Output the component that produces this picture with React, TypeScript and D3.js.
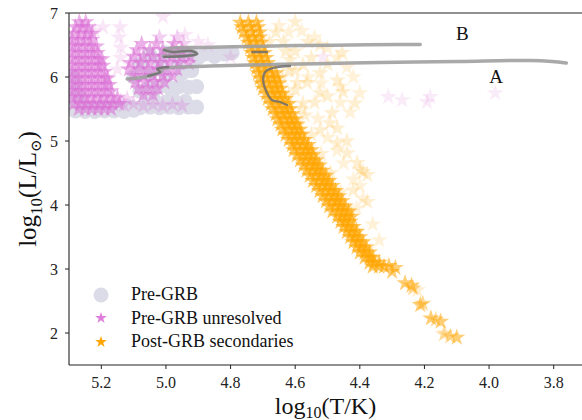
import React from "react";
import * as d3 from "d3";

// ---------- DATA (log10 T, log10 L, weight) ----------
const xTicks = [5.2, 5.0, 4.8, 4.6, 4.4, 4.2, 4.0, 3.8];
const yTicks = [2, 3, 4, 5, 6, 7];

const preGRB: [number, number][] = [
  [5.28, 5.47], [5.25, 5.46], [5.22, 5.46], [5.19, 5.47], [5.16, 5.47], [5.13, 5.46], [5.10, 5.48],
  [5.29, 5.53], [5.26, 5.53], [5.23, 5.52], [5.20, 5.53], [5.17, 5.52], [5.14, 5.52], [5.11, 5.53],
  [5.08, 5.52], [5.05, 5.53], [5.02, 5.52], [4.99, 5.53], [4.96, 5.52], [4.93, 5.53], [4.905, 5.53],
  [5.29, 5.62], [5.27, 5.70], [5.29, 5.80], [5.28, 5.90], [5.29, 6.0],
  [5.06, 5.62], [5.03, 5.60], [5.00, 5.61], [4.97, 5.60], [4.94, 5.62],
  [5.08, 5.78], [5.05, 5.84], [5.02, 5.85], [4.99, 5.84], [4.96, 5.85], [4.93, 5.84], [4.905, 5.85],
  [5.04, 5.76], [4.98, 5.76],
  [5.10, 6.0], [5.05, 6.05], [5.0, 6.0], [4.95, 6.05], [4.92, 6.1], [5.08, 6.2], [5.02, 6.25], [4.96, 6.25],
  [5.05, 6.35], [5.0, 6.38], [4.96, 6.36], [4.92, 6.37], [4.88, 6.36], [4.85, 6.37], [4.82, 6.36],
  [4.795, 6.38], [4.90, 6.30], [4.85, 6.32],
];

const preGRBUnresolved: [number, number, number][] = [
  // left cluster
  [5.268, 6.86, 1], [5.248, 6.86, 1],
  [5.28, 6.78, 1], [5.26, 6.78, 1], [5.24, 6.78, 1],
  [5.285, 6.68, 1], [5.265, 6.68, 1], [5.245, 6.68, 1], [5.228, 6.68, 1],
  [5.29, 6.58, 1], [5.27, 6.58, 1], [5.25, 6.58, 1], [5.23, 6.58, 1],
  [5.29, 6.48, 1], [5.272, 6.48, 1], [5.252, 6.48, 1], [5.232, 6.48, 1], [5.215, 6.48, 1],
  [5.29, 6.38, 1], [5.27, 6.38, 1], [5.25, 6.38, 1], [5.23, 6.38, 1], [5.212, 6.38, 1],
  [5.29, 6.28, 1], [5.27, 6.28, 1], [5.25, 6.28, 1], [5.23, 6.28, 1], [5.21, 6.28, 1], [5.198, 6.28, 1],
  [5.29, 6.18, 1], [5.27, 6.18, 1], [5.25, 6.18, 1], [5.23, 6.18, 1], [5.21, 6.18, 1], [5.195, 6.18, 1],
  [5.29, 6.08, 1], [5.27, 6.08, 1], [5.25, 6.08, 1], [5.23, 6.08, 1], [5.21, 6.08, 1], [5.19, 6.08, 1],
  [5.29, 5.98, 1], [5.27, 5.98, 1], [5.25, 5.98, 1], [5.23, 5.98, 1], [5.21, 5.98, 1], [5.19, 5.98, 1], [5.18, 5.98, 1],
  [5.29, 5.88, 1], [5.27, 5.88, 1], [5.25, 5.88, 1], [5.23, 5.88, 1], [5.21, 5.88, 1], [5.19, 5.88, 1], [5.175, 5.88, 1],
  [5.29, 5.78, 1], [5.27, 5.78, 1], [5.25, 5.78, 1], [5.23, 5.78, 1], [5.21, 5.78, 1], [5.19, 5.78, 1], [5.17, 5.78, 1],
  [5.29, 5.68, 1], [5.27, 5.68, 1], [5.25, 5.68, 1], [5.23, 5.68, 1], [5.21, 5.68, 1], [5.19, 5.68, 1], [5.17, 5.68, 1], [5.15, 5.68, 1],
  [5.285, 5.58, 1], [5.265, 5.58, 1], [5.245, 5.58, 1], [5.225, 5.58, 1], [5.205, 5.58, 1], [5.185, 5.58, 1], [5.165, 5.58, 1], [5.145, 5.58, 1],
  [5.27, 5.50, 1], [5.25, 5.50, 1], [5.23, 5.50, 1], [5.21, 5.50, 1], [5.19, 5.50, 1], [5.17, 5.50, 1],
  // middle cluster
  [5.02, 6.62, 0.6], [4.965, 6.62, 0.6],
  [5.075, 6.52, 1], [5.03, 6.52, 1], [4.975, 6.52, 1], [4.945, 6.52, 0.6],
  [5.09, 6.42, 1], [5.05, 6.42, 1], [5.01, 6.42, 1], [4.98, 6.42, 1], [4.95, 6.42, 1],
  [5.10, 6.32, 1], [5.07, 6.32, 1], [5.04, 6.32, 1], [5.01, 6.32, 1], [4.98, 6.32, 1], [4.95, 6.32, 1], [4.925, 6.32, 1],
  [5.11, 6.22, 1], [5.08, 6.22, 1], [5.05, 6.22, 1], [5.02, 6.22, 1], [4.99, 6.22, 1], [4.96, 6.22, 1], [4.93, 6.22, 1],
  [5.115, 6.12, 1], [5.085, 6.12, 1], [5.055, 6.12, 1], [5.025, 6.12, 1], [4.995, 6.12, 1], [4.965, 6.12, 1],
  [5.10, 6.02, 1], [5.07, 6.02, 1], [5.04, 6.02, 1], [5.01, 6.02, 1], [4.98, 6.02, 1],
  [5.095, 5.92, 1], [5.065, 5.92, 1], [5.035, 5.92, 1], [5.005, 5.92, 1],
  [5.085, 5.82, 1], [5.055, 5.82, 1], [5.025, 5.82, 1],
  [5.07, 5.72, 1], [5.04, 5.72, 1],
  // bottom strip
  [5.13, 5.56, 0.5], [5.10, 5.58, 0.5], [5.07, 5.55, 0.5], [5.04, 5.57, 0.5], [5.01, 5.55, 0.5],
  [4.98, 5.57, 0.5], [4.95, 5.55, 0.5], [5.12, 5.66, 0.5], [5.14, 5.62, 0.5],
  // faint scattered
  [5.195, 6.78, 0.3], [5.142, 6.78, 0.3], [5.145, 6.62, 0.3], [5.14, 6.46, 0.3], [5.14, 6.30, 0.3],
  [5.15, 6.12, 0.3], [5.009, 6.94, 0.3], [4.941, 6.66, 0.3], [4.87, 6.50, 0.3], [4.80, 6.31, 0.3],
  [5.22, 6.72, 0.3], [4.9, 6.55, 0.3],
  [4.514, 6.31, 0.25], [4.312, 5.69, 0.25], [4.269, 5.64, 0.25], [4.192, 5.61, 0.25],
  [4.182, 5.69, 0.25], [3.981, 5.75, 0.25],
];

const postGRB: [number, number, number][] = [
  [4.77, 6.85, 1], [4.745, 6.85, 1], [4.72, 6.85, 1],
  [4.765, 6.78, 1], [4.74, 6.78, 1], [4.715, 6.78, 1],
  [4.76, 6.70, 1], [4.735, 6.70, 1], [4.71, 6.70, 1],
  [4.75, 6.62, 1], [4.73, 6.62, 1], [4.71, 6.62, 1],
  [4.745, 6.54, 1], [4.725, 6.54, 1], [4.705, 6.54, 1],
  [4.74, 6.46, 1], [4.72, 6.46, 1], [4.70, 6.46, 1],
  [4.735, 6.38, 1], [4.715, 6.38, 1], [4.695, 6.38, 1],
  [4.73, 6.30, 1], [4.71, 6.30, 1], [4.69, 6.30, 1],
  [4.725, 6.22, 1], [4.705, 6.22, 1], [4.685, 6.22, 1],
  [4.72, 6.14, 1], [4.70, 6.14, 1], [4.68, 6.14, 1],
  [4.715, 6.06, 1], [4.695, 6.06, 1], [4.675, 6.06, 1], [4.66, 6.06, 1],
  [4.71, 5.98, 1], [4.69, 5.98, 1], [4.67, 5.98, 1], [4.655, 5.98, 1],
  [4.705, 5.90, 1], [4.685, 5.90, 1], [4.665, 5.90, 1], [4.65, 5.90, 1],
  [4.70, 5.82, 1], [4.68, 5.82, 1], [4.66, 5.82, 1], [4.645, 5.82, 1],
  [4.69, 5.74, 1], [4.67, 5.74, 1], [4.655, 5.74, 1], [4.64, 5.74, 1],
  [4.685, 5.66, 1], [4.665, 5.66, 1], [4.645, 5.66, 1], [4.63, 5.66, 1],
  [4.675, 5.58, 1], [4.655, 5.58, 1], [4.64, 5.58, 1], [4.62, 5.58, 1],
  [4.67, 5.50, 1], [4.65, 5.50, 1], [4.63, 5.50, 1], [4.615, 5.50, 1],
  [4.66, 5.42, 1], [4.64, 5.42, 1], [4.625, 5.42, 1], [4.61, 5.42, 1],
  [4.655, 5.34, 1], [4.635, 5.34, 1], [4.615, 5.34, 1], [4.60, 5.34, 1],
  [4.645, 5.26, 1], [4.625, 5.26, 1], [4.61, 5.26, 1], [4.595, 5.26, 1],
  [4.64, 5.18, 1], [4.62, 5.18, 1], [4.60, 5.18, 1], [4.585, 5.18, 1],
  [4.63, 5.10, 1], [4.61, 5.10, 1], [4.595, 5.10, 1], [4.58, 5.10, 1],
  [4.62, 5.02, 1], [4.60, 5.02, 1], [4.585, 5.02, 1], [4.57, 5.02, 1],
  [4.61, 4.94, 1], [4.595, 4.94, 1], [4.575, 4.94, 1], [4.56, 4.94, 1],
  [4.605, 4.86, 1], [4.585, 4.86, 1], [4.565, 4.86, 1], [4.55, 4.86, 1],
  [4.595, 4.78, 1], [4.575, 4.78, 1], [4.56, 4.78, 1], [4.545, 4.78, 1],
  [4.585, 4.70, 1], [4.565, 4.70, 1], [4.55, 4.70, 1], [4.535, 4.70, 1],
  [4.575, 4.62, 1], [4.555, 4.62, 1], [4.54, 4.62, 1], [4.525, 4.62, 1],
  [4.565, 4.54, 1], [4.545, 4.54, 1], [4.53, 4.54, 1], [4.515, 4.54, 1],
  [4.555, 4.46, 1], [4.535, 4.46, 1], [4.52, 4.46, 1], [4.505, 4.46, 1],
  [4.545, 4.38, 1], [4.525, 4.38, 1], [4.51, 4.38, 1], [4.495, 4.38, 1],
  [4.535, 4.30, 1], [4.515, 4.30, 1], [4.50, 4.30, 1], [4.485, 4.30, 1],
  [4.525, 4.22, 1], [4.505, 4.22, 1], [4.49, 4.22, 1], [4.475, 4.22, 1],
  [4.515, 4.14, 1], [4.495, 4.14, 1], [4.48, 4.14, 1], [4.465, 4.14, 1],
  [4.505, 4.06, 1], [4.485, 4.06, 1], [4.47, 4.06, 1], [4.455, 4.06, 1],
  [4.495, 3.98, 1], [4.475, 3.98, 1], [4.46, 3.98, 1], [4.445, 3.98, 1],
  [4.485, 3.90, 1], [4.465, 3.90, 1], [4.45, 3.90, 1], [4.435, 3.90, 1],
  [4.47, 3.82, 1], [4.455, 3.82, 1], [4.44, 3.82, 1], [4.425, 3.82, 1],
  [4.46, 3.74, 1], [4.445, 3.74, 1], [4.43, 3.74, 1],
  [4.45, 3.66, 1], [4.435, 3.66, 1], [4.42, 3.66, 1],
  [4.44, 3.58, 1], [4.425, 3.58, 1], [4.41, 3.58, 1],
  [4.43, 3.50, 1], [4.415, 3.50, 1], [4.40, 3.50, 1],
  [4.42, 3.42, 1], [4.405, 3.42, 1], [4.39, 3.42, 1],
  [4.41, 3.34, 1], [4.395, 3.34, 1], [4.38, 3.34, 1],
  [4.40, 3.26, 1], [4.385, 3.26, 1], [4.37, 3.26, 1],
  [4.385, 3.18, 1], [4.37, 3.18, 1], [4.36, 3.18, 1],
  [4.37, 3.10, 1], [4.355, 3.10, 1], [4.34, 3.10, 1],
  [4.36, 3.04, 1], [4.34, 3.04, 1], [4.325, 3.04, 1],
  // tail
  [4.31, 3.05, 0.9], [4.29, 3.02, 0.9], [4.30, 2.96, 0.9],
  [4.26, 2.78, 0.9], [4.24, 2.74, 0.9], [4.235, 2.70, 0.7],
  [4.213, 2.44, 0.9], [4.205, 2.46, 0.7],
  [4.18, 2.23, 0.9], [4.15, 2.18, 0.9], [4.165, 2.21, 0.6],
  [4.14, 1.98, 0.5], [4.12, 1.95, 0.7], [4.10, 1.93, 0.9],
  // faint spread
  [4.600, 6.86, 0.3], [4.637, 6.55, 0.3], [4.560, 6.55, 0.3], [4.523, 6.50, 0.3], [4.455, 6.38, 0.3],
  [4.616, 6.27, 0.3], [4.576, 6.19, 0.3], [4.523, 6.06, 0.3], [4.470, 5.95, 0.3], [4.594, 5.91, 0.3],
  [4.563, 5.91, 0.3], [4.523, 5.75, 0.3], [4.452, 5.77, 0.3], [4.415, 5.59, 0.3], [4.486, 5.44, 0.3],
  [4.576, 5.59, 0.3], [4.399, 4.55, 0.3], [4.377, 4.47, 0.3], [4.390, 4.52, 0.3], [4.408, 4.66, 0.3],
  [4.439, 4.81, 0.3], [4.470, 4.97, 0.3], [4.523, 5.17, 0.3], [4.492, 5.28, 0.3], [4.377, 4.05, 0.3],
  [4.421, 4.23, 0.3], [4.222, 2.67, 0.3], [4.136, 2.00, 0.3],
  [4.60, 6.40, 0.3], [4.62, 6.10, 0.3], [4.60, 5.80, 0.3], [4.57, 5.40, 0.3], [4.55, 5.10, 0.3],
  [4.52, 4.80, 0.3], [4.49, 4.50, 0.3], [4.46, 4.20, 0.3], [4.43, 3.90, 0.3], [4.41, 3.60, 0.3],
  [4.38, 3.30, 0.3], [4.55, 6.30, 0.3], [4.50, 6.20, 0.3], [4.66, 6.70, 0.3], [4.68, 6.55, 0.3],
  [4.54, 5.60, 0.3], [4.50, 5.70, 0.3], [4.47, 5.20, 0.3], [4.44, 5.00, 0.3],
  [4.65, 6.80, 0.25], [4.62, 6.70, 0.25], [4.58, 6.72, 0.25], [4.54, 6.62, 0.25], [4.50, 6.45, 0.25],
  [4.47, 6.30, 0.25], [4.44, 6.15, 0.25], [4.42, 6.00, 0.25], [4.46, 5.85, 0.25], [4.40, 5.75, 0.25],
  [4.43, 5.45, 0.25], [4.46, 5.60, 0.25], [4.52, 5.90, 0.25], [4.56, 6.00, 0.25], [4.58, 5.50, 0.25],
  [4.53, 5.35, 0.25], [4.50, 5.05, 0.25], [4.47, 4.85, 0.25], [4.45, 4.65, 0.25], [4.42, 4.40, 0.25],
  [4.40, 4.30, 0.25], [4.39, 4.10, 0.25], [4.41, 3.95, 0.25], [4.36, 3.70, 0.25], [4.34, 3.45, 0.25],
  [4.63, 6.40, 0.3], [4.60, 6.10, 0.3], [4.64, 6.00, 0.3], [4.62, 5.70, 0.3], [4.59, 5.25, 0.3],
  [4.56, 4.90, 0.3], [4.53, 4.65, 0.3], [4.50, 4.35, 0.3], [4.47, 4.05, 0.3], [4.45, 3.75, 0.3],
];

const trackA: [number, number][] = [
  [5.120, 5.969], [5.065, 6.000], [5.034, 6.047], [5.012, 6.094], [5.024, 6.125], [5.000, 6.141],
  [4.956, 6.156], [4.863, 6.172], [4.740, 6.188], [4.585, 6.203], [4.430, 6.219], [4.229, 6.234],
  [4.090, 6.242], [3.873, 6.258], [3.805, 6.242], [3.761, 6.219],
];
const trackB: [number, number][] = [
  [5.009, 6.328], [4.941, 6.328], [4.904, 6.359], [4.919, 6.406], [4.981, 6.391], [5.006, 6.422],
  [4.981, 6.453], [4.894, 6.461], [4.740, 6.477], [4.585, 6.492], [4.430, 6.500], [4.275, 6.508],
  [4.213, 6.508],
];
const loopB: [number, number][] = [
  [5.006, 6.313], [4.941, 6.328], [4.904, 6.359], [4.919, 6.406], [4.981, 6.391], [5.006, 6.422],
];
const loopA: [number, number][] = [[5.055, 6.016], [5.018, 6.078], [5.028, 6.125], [4.993, 6.156]];
const loopB2: [number, number][] = [[4.733, 6.391], [4.687, 6.391]];
const loopA2: [number, number][] = [
  [4.616, 6.172], [4.668, 6.141], [4.693, 6.078], [4.699, 5.953], [4.687, 5.750],
  [4.672, 5.641], [4.647, 5.609], [4.625, 5.563],
];

const trackLabels: { name: string; t: number; l: number }[] = [
  { name: "B", t: 4.083, l: 6.58 },
  { name: "A", t: 3.978, l: 5.9 },
];

const legendItems = ["Pre-GRB", "Pre-GRB unresolved", "Post-GRB secondaries"];

// ---------- CHART ----------
const W = 582;
const H = 420;
const L = 69;
const R = 586;
const T = 13;
const B = 365;
const FONT = "'Liberation Serif', 'DejaVu Serif', serif";

export default function App() {
  const x = d3.scaleLinear().domain([5.3, 3.7]).range([L, R]);
  const y = d3.scaleLinear().domain([1.5, 7]).range([B, T]);
  const star = d3.symbol().type(d3.symbolStar).size(92)() as string;
  const starSmall = d3.symbol().type(d3.symbolStar).size(42)() as string;
  const pinkOp = d3.scaleLinear().domain([0, 1]).range([0, 0.55]);
  const orangeOp = d3.scaleLinear().domain([0, 1]).range([0, 0.6]);
  const line = d3
    .line<[number, number]>()
    .x((d) => x(d[0]))
    .y((d) => y(d[1]))
    .curve(d3.curveCatmullRom);

  const grey = "#dcdce8";
  const pink = "#da70d6";
  const orange = "#ffa500";

  return (
    <svg
      width={W}
      height={H}
      style={{ position: "absolute", left: 0, top: 0, background: "#fff" }}
      fontFamily={FONT}
    >
      <defs>
        <clipPath id="plot">
          <rect x={L} y={T} width={R - L} height={B - T} />
        </clipPath>
      </defs>
      <g clipPath="url(#plot)">
        {preGRB.map((d, i) => (
          <circle key={"g" + i} cx={x(d[0])} cy={y(d[1])} r={7.5} fill={grey} />
        ))}
        {preGRBUnresolved.map((d, i) => (
          <path
            key={"p" + i}
            d={star}
            transform={`translate(${x(d[0])},${y(d[1])})`}
            fill={pink}
            fillOpacity={pinkOp(d[2])}
          />
        ))}
        {postGRB.map((d, i) => (
          <path
            key={"o" + i}
            d={star}
            transform={`translate(${x(d[0])},${y(d[1])})`}
            fill={orange}
            fillOpacity={orangeOp(d[2])}
          />
        ))}
        <path d={line(trackA) as string} fill="none" stroke="#a0a0a0" strokeWidth={3.5} strokeOpacity={0.9} strokeLinecap="round" strokeLinejoin="round" />
        <path d={line(trackB) as string} fill="none" stroke="#a0a0a0" strokeWidth={3.5} strokeOpacity={0.9} strokeLinecap="round" strokeLinejoin="round" />
        {[loopB, loopA, loopB2, loopA2].map((tr, i) => (
          <path key={"l" + i} d={line(tr) as string} fill="none" stroke="#6f6f6f" strokeWidth={2.3} strokeLinecap="round" strokeLinejoin="round" strokeOpacity={0.85} />
        ))}
      </g>
      {trackLabels.map((t) => (
        <text key={t.name} x={x(t.t)} y={y(t.l)} fontSize={19} textAnchor="middle" fill="#111">
          {t.name}
        </text>
      ))}
      {/* spines */}
      <line x1={L} x2={L} y1={T} y2={B} stroke="#222" strokeWidth={1.1} />
      <line x1={L} x2={R} y1={B} y2={B} stroke="#222" strokeWidth={1.1} />
      <line x1={L} x2={R} y1={T} y2={T} stroke="#222" strokeWidth={1.1} />
      {/* x ticks */}
      {xTicks.map((t) => (
        <g key={"xt" + t}>
          <line x1={x(t)} x2={x(t)} y1={B} y2={B + 4} stroke="#222" strokeWidth={1} />
          <text x={x(t)} y={B + 23} fontSize={16} textAnchor="middle" fill="#222">
            {t.toFixed(1)}
          </text>
        </g>
      ))}
      {yTicks.map((t) => (
        <g key={"yt" + t}>
          <line x1={L - 4} x2={L} y1={y(t)} y2={y(t)} stroke="#222" strokeWidth={1} />
          <text x={L - 11} y={y(t) + 5.5} fontSize={16} textAnchor="end" fill="#222">
            {t}
          </text>
        </g>
      ))}
      {/* axis labels */}
      <text x={(L + R) / 2 - 2} y={414} fontSize={24} textAnchor="middle" fill="#111">
        log<tspan fontSize={16} dy={4}>10</tspan>
        <tspan dy={-4}>(T/K)</tspan>
      </text>
      <text
        transform={`translate(36,${(T + B) / 2}) rotate(-90)`}
        fontSize={25}
        textAnchor="middle"
        fill="#111"
      >
        log<tspan fontSize={17} dy={6}>10</tspan>
        <tspan dy={-6}>(L/L</tspan>
        <tspan fontSize={15} dy={5}>⊙</tspan>
        <tspan dy={-5}>)</tspan>
      </text>
      {/* legend */}
      <circle cx={101} cy={295} r={7.5} fill={grey} />
      <path d={starSmall} transform="translate(101,318)" fill={pink} fillOpacity={0.9} />
      <path d={starSmall} transform="translate(101,342)" fill={orange} />
      {legendItems.map((s, i) => (
        <text key={s} x={131} y={300 + i * 23.5} fontSize={18} fill="#111">
          {s}
        </text>
      ))}
    </svg>
  );
}
